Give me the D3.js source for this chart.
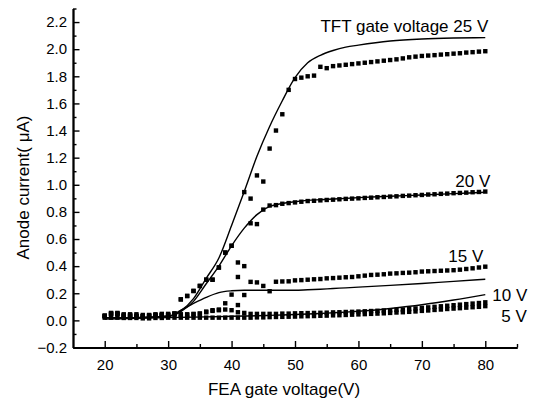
<!DOCTYPE html>
<html>
<head>
<meta charset="utf-8">
<script src="https://cdn.jsdelivr.net/npm/d3@7/dist/d3.min.js"></script>
<style>
  body { margin: 0; background: #fff; }
  text { font-family: "Liberation Sans", Arial, sans-serif; fill: #000; }
</style>
</head>
<body>
<div id="chart"></div>
<script>
// FEA gate voltage (V) for the measured points
const feaVoltage = [20, 21, 22, 23, 24, 25, 26, 27, 28, 29, 30, 31, 32, 33, 34, 35, 36, 37, 38, 39,
  40, 41, 42, 43, 44, 45, 46, 47, 48, 49, 50, 51, 52, 53, 54, 55, 56, 57, 58, 59,
  60, 61, 62, 63, 64, 65, 66, 67, 68, 69, 70, 71, 72, 73, 74, 75, 76, 77, 78, 79, 80];

// measured anode current (uA), one value per feaVoltage
const meas25 = [0.035, 0.05, 0.05, 0.035, 0.035, 0.03, 0.03, 0.035, 0.035, 0.04, 0.04, 0.05, 0.155, 0.18, 0.217, 0.254, 0.30, 0.30, 0.39, 0.50,
  0.55, 0.32, 0.946, 0.898, 1.069, 1.024, 1.267, 1.40, 1.52, 1.70, 1.78, 1.79, 1.80, 1.805, 1.87, 1.86, 1.875, 1.88, 1.885, 1.89,
  1.895, 1.90, 1.905, 1.91, 1.915, 1.92, 1.925, 1.932, 1.94, 1.945, 1.95, 1.953, 1.956, 1.96, 1.963, 1.967, 1.97, 1.975, 1.978, 1.982, 1.985];
const meas20 = [0.03, 0.05, 0.05, 0.035, 0.035, 0.03, 0.03, 0.035, 0.04, 0.04, 0.04, 0.05, 0.155, 0.18, 0.217, 0.254, 0.30, 0.30, 0.39, 0.50,
  0.55, 0.427, 0.40, 0.716, 0.71, 0.817, 0.847, 0.85, 0.86, 0.865, 0.87, 0.875, 0.88, 0.882, 0.885, 0.888, 0.89, 0.893, 0.896, 0.898,
  0.90, 0.903, 0.905, 0.908, 0.91, 0.913, 0.915, 0.918, 0.92, 0.923, 0.925, 0.928, 0.93, 0.933, 0.935, 0.938, 0.94, 0.942, 0.945, 0.947, 0.95];
const meas15 = [0.03, 0.045, 0.045, 0.035, 0.035, 0.035, 0.03, 0.03, 0.035, 0.035, 0.04, 0.045, 0.04, 0.04, 0.045, 0.05, 0.06, 0.07, 0.075, 0.126,
  0.19, 0.113, 0.187, 0.284, 0.28, 0.254, 0.215, 0.285, 0.287, 0.288, 0.295, 0.297, 0.30, 0.303, 0.305, 0.31, 0.312, 0.315, 0.318, 0.32,
  0.325, 0.33, 0.335, 0.337, 0.34, 0.345, 0.347, 0.35, 0.352, 0.355, 0.36, 0.362, 0.364, 0.366, 0.368, 0.37, 0.374, 0.379, 0.384, 0.39, 0.396];
const meas10 = [0.035, 0.055, 0.055, 0.045, 0.045, 0.045, 0.04, 0.04, 0.045, 0.048, 0.048, 0.05, 0.045, 0.045, 0.048, 0.05, 0.065, 0.075, 0.08, 0.08,
  0.075, 0.06, 0.055, 0.048, 0.048, 0.048, 0.048, 0.048, 0.05, 0.05, 0.052, 0.053, 0.054, 0.055, 0.056, 0.057, 0.059, 0.06, 0.062, 0.063,
  0.065, 0.067, 0.069, 0.071, 0.073, 0.075, 0.078, 0.08, 0.084, 0.088, 0.092, 0.096, 0.10, 0.104, 0.108, 0.112, 0.116, 0.12, 0.124, 0.128, 0.133];
const meas5 = [0.02, 0.02, 0.02, 0.018, 0.018, 0.018, 0.015, 0.015, 0.018, 0.018, 0.02, 0.02, 0.02, 0.02, 0.02, 0.02, 0.02, 0.02, 0.02, 0.02,
  0.02, 0.02, 0.02, 0.02, 0.022, 0.022, 0.024, 0.025, 0.026, 0.027, 0.028, 0.03, 0.031, 0.032, 0.034, 0.035, 0.037, 0.038, 0.04, 0.042,
  0.044, 0.046, 0.048, 0.05, 0.052, 0.055, 0.058, 0.06, 0.063, 0.066, 0.07, 0.073, 0.077, 0.08, 0.084, 0.087, 0.09, 0.094, 0.097, 0.10, 0.105];

// simulated curves (solid lines)
const simVoltage = [20, 25, 30, 32, 34, 36, 38, 40, 42, 44, 46, 48, 50, 52, 54, 56, 58, 60, 65, 70, 75, 80];
const sim25 = [0.02, 0.02, 0.03, 0.07, 0.16, 0.31, 0.46, 0.70, 0.95, 1.21, 1.43, 1.62, 1.79, 1.90, 1.955, 1.99, 2.015, 2.03, 2.06, 2.075, 2.082, 2.085];
const sim20 = [0.02, 0.02, 0.03, 0.065, 0.14, 0.27, 0.40, 0.55, 0.68, 0.78, 0.84, 0.862, 0.875, 0.885, 0.89, 0.895, 0.90, 0.905, 0.915, 0.925, 0.935, 0.945];
const sim15 = [0.02, 0.02, 0.03, 0.075, 0.125, 0.17, 0.205, 0.218, 0.222, 0.222, 0.222, 0.222, 0.222, 0.226, 0.23, 0.235, 0.24, 0.245, 0.258, 0.272, 0.288, 0.303];
const sim10 = [0.01, 0.015, 0.02, 0.022, 0.024, 0.026, 0.028, 0.03, 0.032, 0.034, 0.037, 0.04, 0.043, 0.047, 0.051, 0.056, 0.061, 0.067, 0.088, 0.115, 0.15, 0.19];

const seriesLabels = ['TFT gate voltage 25 V', '20 V', '15 V', '10 V', '5 V'];

// axis ticks
const xMajorTicks = [20, 30, 40, 50, 60, 70, 80];
const xMinorTicks = [25, 35, 45, 55, 65, 75, 85];
const yMajorTicks = [-0.2, 0.0, 0.2, 0.4, 0.6, 0.8, 1.0, 1.2, 1.4, 1.6, 1.8, 2.0, 2.2];
const yMinorTicks = [-0.1, 0.1, 0.3, 0.5, 0.7, 0.9, 1.1, 1.3, 1.5, 1.7, 1.9, 2.1, 2.3];

const margin = { top: 8.5, right: 20, bottom: 52.5, left: 73 };
const width = 537 - margin.left - margin.right;
const height = 400 - margin.top - margin.bottom;

const svg = d3.select('#chart').append('svg')
  .attr('width', 537)
  .attr('height', 400);

const g = svg.append('g')
  .attr('transform', `translate(${margin.left},${margin.top})`);

const x = d3.scaleLinear().domain([15, 85]).range([0, width]);
const y = d3.scaleLinear().domain([-0.2, 2.3]).range([height, 0]);

// axes, ticks pointing inward
const styleAxis = (sel) => {
  sel.select('.domain').attr('stroke', '#000').attr('stroke-width', 1.8);
  sel.selectAll('.tick line').attr('stroke', '#000').attr('stroke-width', 1.4);
  sel.selectAll('.tick text').style('font-size', '15px');
};

g.append('g')
  .attr('transform', `translate(0,${height})`)
  .call(d3.axisBottom(x).tickValues(xMinorTicks).tickSize(-3.5).tickSizeOuter(0).tickFormat(''))
  .call(styleAxis);
g.append('g')
  .attr('transform', `translate(0,${height})`)
  .call(d3.axisBottom(x).tickValues(xMajorTicks).tickSize(-6.5).tickSizeOuter(0).tickPadding(12).tickFormat(d3.format('d')))
  .call(styleAxis);

g.append('g')
  .call(d3.axisLeft(y).tickValues(yMinorTicks).tickSize(-3.5).tickSizeOuter(0).tickFormat(''))
  .call(styleAxis);
g.append('g')
  .call(d3.axisLeft(y).tickValues(yMajorTicks).tickSize(-6.5).tickSizeOuter(0).tickPadding(6).tickFormat(d3.format('.1f')))
  .call(styleAxis);

// simulated curves
const line = d3.line()
  .x((d) => x(d[0]))
  .y((d) => y(d[1]))
  .curve(d3.curveMonotoneX);

[sim25, sim20, sim15, sim10].forEach((s) => {
  g.append('path')
    .datum(simVoltage.map((v, i) => [v, s[i]]))
    .attr('fill', 'none')
    .attr('stroke', '#000')
    .attr('stroke-width', 1.4)
    .attr('d', line);
});

// measured points as small squares
const sq = 4.4;
[meas25, meas20, meas15, meas10, meas5].forEach((s) => {
  g.append('g')
    .selectAll('rect')
    .data(feaVoltage.map((v, i) => [v, s[i]]))
    .join('rect')
    .attr('x', (d) => x(d[0]) - sq / 2)
    .attr('y', (d) => y(d[1]) - sq / 2)
    .attr('width', sq)
    .attr('height', sq)
    .attr('fill', '#000');
});

// series labels next to the curve ends
const labelEnds = [sim25[sim25.length - 1], meas20[meas20.length - 1], meas15[meas15.length - 1],
  sim10[sim10.length - 1], meas5[meas5.length - 1]];
const labelOffsets = [[3, -6], [5, -5], [-2, -4.5], [42, 6], [41.5, 15.5]];
seriesLabels.forEach((t, i) => {
  g.append('text')
    .attr('x', x(80) + labelOffsets[i][0])
    .attr('y', y(labelEnds[i]) + labelOffsets[i][1])
    .attr('text-anchor', 'end')
    .style('font-size', '17px')
    .text(t);
});

// axis titles
svg.append('text')
  .attr('x', 284)
  .attr('y', 395)
  .attr('text-anchor', 'middle')
  .style('font-size', '17px')
  .text('FEA gate voltage(V)');

svg.append('text')
  .attr('transform', 'translate(29,187.5) rotate(-90)')
  .attr('text-anchor', 'middle')
  .style('font-size', '17px')
  .text('Anode current( μA)');
</script>
</body>
</html>
